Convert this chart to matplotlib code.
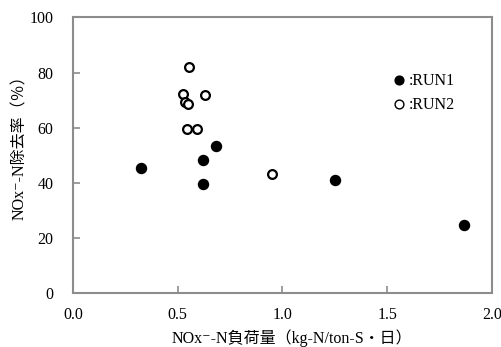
import matplotlib
matplotlib.use("Agg")
import matplotlib.pyplot as plt

plt.rcParams['font.family'] = ['Liberation Serif', 'DejaVu Sans', 'Noto Sans CJK JP']

run1_x = [0.324, 0.620, 0.620, 0.683, 1.249, 1.867]
run1_y = [45.5, 48.4, 39.5, 53.5, 41.0, 24.6]
run2_x = [0.555, 0.526, 0.630, 0.534, 0.550, 0.544, 0.593, 0.951]
run2_y = [82.1, 72.2, 72.0, 69.4, 68.7, 59.5, 59.5, 43.2]
xticks = [0.0, 0.5, 1.0, 1.5, 2.0]
yticks = [0, 20, 40, 60, 80, 100]

fig = plt.figure(figsize=(5.02, 3.47), dpi=100)
ax = fig.add_axes([0.1454, 0.1548, 0.8346, 0.7952])
ax.scatter(run1_x, run1_y, s=52, c='black', edgecolors='black', linewidths=1, zorder=3, label=':RUN1')
ax.scatter(run2_x, run2_y, s=40, facecolors='white', edgecolors='black', linewidths=1.6, zorder=3, label=':RUN2')

ax.set_xlim(0, 2.0)
ax.set_ylim(0, 100)
ax.set_xticks(xticks)
ax.set_xticklabels([f"{v:.1f}" for v in xticks])
ax.set_yticks(yticks)
ax.set_yticklabels([str(v) for v in yticks])
for s in ax.spines.values():
    s.set_color('#8c8c8c')
    s.set_linewidth(1.5)
ax.tick_params(axis='x', direction='in', length=5, width=1.2, color='#8c8c8c', labelsize=11.5, pad=10)
ax.tick_params(axis='y', direction='in', length=5, width=1.2, color='#8c8c8c', labelsize=11.5, pad=14)

ax.set_xlabel('NOx⁻-N負荷量（kg-N/ton-S・日）', fontsize=11.5, va='center')
ax.set_ylabel('NOx⁻-N除去率（％）', fontsize=11.5, va='center')
ax.xaxis.set_label_coords(0.523, -0.162)
ax.yaxis.set_label_coords(-0.1265, 0.541)

leg = ax.legend(loc='upper left', bbox_to_anchor=(0.76, 0.80), frameon=False, fontsize=11.5,
                handletextpad=0.1, handlelength=1.0, labelspacing=0.5, borderaxespad=0, borderpad=0)
for h in leg.legend_handles:
    h.set_sizes([40])
    h.set_linewidth(1.0)

fig.savefig('out.png', dpi=100)
